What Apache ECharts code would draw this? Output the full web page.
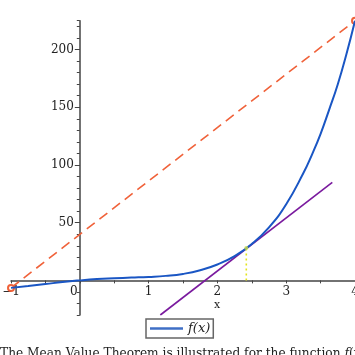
<!DOCTYPE html>
<html><head><meta charset="utf-8">
<script src="https://cdn.jsdelivr.net/npm/echarts@6/dist/echarts.min.js"></script>
<style>html,body{margin:0;padding:0;background:#fff}#c{width:355px;height:355px}</style>
</head><body><div id="c"></div>
<script>
// f(x)
const fxX = [-1, -0.75, -0.5, -0.25, 0, 0.25, 0.5, 0.75, 1, 1.25, 1.5, 1.75, 2, 2.25, 2.5, 2.75, 3, 3.25, 3.375, 3.5, 3.625, 3.75, 3.875, 4];
const fxY = [-6.5, -4.9, -3.2, -1.4, 0, 1.1, 1.8, 2.4, 3, 3.9, 5.6, 8.8, 13.8, 21, 31.5, 46, 66, 93, 109, 127, 148, 170, 196, 225];
// secant through the end points
const secantX = [-1, 4];
const secantY = [-6.5, 225];
// tangent at c
const tangentX = [1.17, 3.67];
const tangentY = [-30, 85];
// vertical guide at c
const guideX = [2.42, 2.42];
const guideY = [0, 28];
const pointC = [2.42, 28];
const yMajor = [50, 100, 150, 200];
const legendName = 'f(x)';
const caption = 'The Mean Value Theorem is illustrated for the function {i|f}(x) = x\u2074 \u2212 3x\u00b2 + 5x on [\u22121, 4].';

const zip = (a, b) => a.map((v, i) => [v, b[i]]);
const serif = 'DejaVu Serif';
const ink = '#222';
const axisCol = '#444';
const xMin = -1, xMax = 4, yMin = -30, yMax = 225;
const G = {left: 11, right: 0, top: 20.7, bottom: 40};
const plotW = 355 - G.left - G.right, plotH = 355 - G.top - G.bottom;
// shift the axes onto the zero lines
const xAxisShift = -plotH * (0 - yMin) / (yMax - yMin);
const yAxisShift = -plotW * (0 - xMin) / (xMax - xMin);

const chart = echarts.init(document.getElementById('c'));
chart.setOption({
  animation: false,
  title: {
    text: caption, left: 0, top: 347.5, padding: 0,
    textStyle: {fontFamily: serif, fontSize: 12.2, fontWeight: 'normal', color: ink,
      rich: {i: {fontFamily: serif, fontSize: 12.2, fontStyle: 'italic', color: ink}}}
  },
  legend: {
    data: [{name: legendName, icon: 'rect'}], left: 146, top: 319, padding: [3, 3, 3, 4],
    borderColor: '#666', borderWidth: 1.5, itemWidth: 33, itemHeight: 2.5, itemGap: 4,
    textStyle: {fontFamily: serif, fontStyle: 'italic', fontSize: 13, color: ink}
  },
  grid: Object.assign({outerBoundsMode: 'none', containLabel: false}, G),
  xAxis: {
    type: 'value', min: xMin, max: xMax, interval: 0.5, offset: xAxisShift,
    name: 'x', nameLocation: 'middle', nameGap: 19, nameMoveOverlap: false,
    nameTextStyle: {fontFamily: serif, fontSize: 11, color: ink, padding: [0, 0, 0, 68]},
    axisLine: {onZero: false, lineStyle: {color: axisCol, width: 1.5}},
    axisTick: {length: 3, lineStyle: {color: axisCol}},
    splitLine: {show: false},
    axisLabel: {
      fontFamily: serif, fontSize: 12, color: ink, margin: 5, showMaxLabel: true, showMinLabel: true,
      formatter: v => {
        if (Math.abs(v - Math.round(v)) > 1e-9) return '';
        if (v === 0) return '{z|0}';
        if (v < 0) return '\u2212' + (-v);
        return String(v);
      },
      rich: {z: {fontFamily: serif, fontSize: 12, color: ink, padding: [0, 12, 0, 0]}}
    }
  },
  yAxis: [{
    type: 'value', min: yMin, max: yMax, interval: 10, offset: yAxisShift,
    axisLine: {onZero: false, lineStyle: {color: axisCol, width: 1.5}},
    axisTick: {length: 3, lineStyle: {color: axisCol}},
    splitLine: {show: false},
    axisLabel: {fontFamily: serif, fontSize: 12, color: ink, margin: 6,
      formatter: v => (v > 0 && v % 50 === 0) ? String(v) : ''}
  }, {
    type: 'value', min: yMin, max: yMax, position: 'left', offset: yAxisShift,
    axisLine: {show: false, onZero: false},
    axisTick: {show: true, customValues: yMajor, length: 5, lineStyle: {color: axisCol}},
    axisLabel: {show: false},
    splitLine: {show: false}
  }],
  series: [
    {name: 'secant', type: 'line', data: zip(secantX, secantY), symbol: 'emptyCircle', symbolSize: 6,
     itemStyle: {color: '#f0623a'}, lineStyle: {color: '#f0623a', width: 1.6, type: [10, 6]}, z: 2},
    {name: 'tangent', type: 'line', data: zip(tangentX, tangentY), symbol: 'none',
     lineStyle: {color: '#7a1a9e', width: 1.6}, z: 2},
    {name: 'guide', type: 'line', data: zip(guideX, guideY), symbol: 'none',
     lineStyle: {color: '#e3e31c', width: 1.6, type: [2, 3]}, z: 2},
    {name: legendName, type: 'line', data: zip(fxX, fxY), smooth: true, symbol: 'none',
     lineStyle: {color: '#1a56c4', width: 2}, itemStyle: {color: '#3f6fc6'}, z: 3},
    {name: 'c', type: 'scatter', data: [pointC], symbolSize: 4, itemStyle: {color: '#c9e04a'}, z: 4}
  ]
});
</script></body></html>
